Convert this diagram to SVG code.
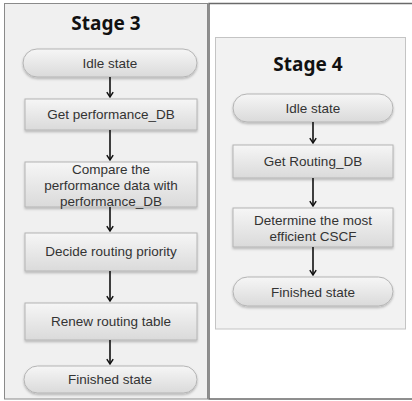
<svg xmlns="http://www.w3.org/2000/svg" width="412" height="401" viewBox="0 0 412 401">
<style>
.title{font-family:"Noto Sans","Liberation Sans",sans-serif;font-size:19px;font-weight:bold;fill:#111;text-anchor:middle}
.lbl{font-family:"Liberation Sans","Noto Sans",sans-serif;font-size:13.5px;fill:#333;text-anchor:middle}
.node{fill:url(#g);stroke:#b4b4b4;stroke-width:1;filter:url(#sh)}
.conn line{stroke:#111;stroke-width:1.6;marker-end:url(#arr)}
</style>
<defs>
<linearGradient id="g" x1="0" y1="0" x2="0" y2="1">
<stop offset="0" stop-color="#f6f6f6"/>
<stop offset="1" stop-color="#dadada"/>
</linearGradient>
<filter id="sh" x="-10%" y="-20%" width="120%" height="150%">
<feDropShadow dx="0" dy="1.5" stdDeviation="1" flood-color="#000" flood-opacity="0.25"/>
</filter>
<marker id="arr" viewBox="0 0 10 10" refX="9" refY="5" markerWidth="8" markerHeight="8" markerUnits="userSpaceOnUse" orient="auto">
<path d="M3,1 L9,5 L3,9" fill="none" stroke="#111" stroke-width="1.8"/>
</marker>
</defs>
<rect x="0" y="0" width="412" height="401" fill="#fff"/>
<g id="panel3">
<rect x="4.5" y="3.5" width="203" height="395.5" fill="#f0f0f0" stroke="#8a8a8a" stroke-width="1"/>
<text class="title" x="106" y="30">Stage 3</text>
</g>
<g id="panel4">
<rect x="209" y="3.5" width="210" height="395.5" fill="#fff" stroke="#6a6a6a" stroke-width="1.5"/>
<rect x="215.5" y="37.5" width="190" height="291.5" fill="#f2f2f2" stroke="#c4c4c4" stroke-width="1"/>
<text class="title" x="308" y="71">Stage 4</text>
</g>
<g id="s3-idle"><rect class="node" x="23" y="49" width="174" height="28" rx="14"/><text class="lbl" x="110" y="68">Idle state</text></g>
<g id="s3-getdb"><rect class="node" x="25" y="99" width="172" height="31"/><text class="lbl" x="111" y="119">Get performance_DB</text></g>
<g id="s3-compare"><rect class="node" x="25" y="162" width="172" height="45"/><text class="lbl" x="111" y="174">Compare the</text><text class="lbl" x="111" y="190">performance data with</text><text class="lbl" x="111" y="206">performance_DB</text></g>
<g id="s3-decide"><rect class="node" x="25" y="233" width="172" height="38"/><text class="lbl" x="111" y="256">Decide routing priority</text></g>
<g id="s3-renew"><rect class="node" x="25" y="303" width="172" height="37"/><text class="lbl" x="111" y="326">Renew routing table</text></g>
<g id="s3-finished"><rect class="node" x="24" y="366" width="173" height="27" rx="13.5"/><text class="lbl" x="110" y="384">Finished state</text></g>
<g id="s4-idle"><rect class="node" x="233" y="94" width="160" height="28" rx="14"/><text class="lbl" x="313" y="113">Idle state</text></g>
<g id="s4-getdb"><rect class="node" x="233" y="145" width="160" height="33"/><text class="lbl" x="313" y="166">Get Routing_DB</text></g>
<g id="s4-determine"><rect class="node" x="233" y="208" width="160" height="39"/><text class="lbl" x="313" y="225">Determine the most</text><text class="lbl" x="313" y="241">efficient CSCF</text></g>
<g id="s4-finished"><rect class="node" x="233" y="277" width="160" height="29" rx="14.5"/><text class="lbl" x="313" y="297">Finished state</text></g>
<g id="connectors" class="conn">
<line x1="110" y1="77" x2="110" y2="97"/>
<line x1="110" y1="130" x2="110" y2="160"/>
<line x1="110" y1="207" x2="110" y2="231"/>
<line x1="110" y1="271" x2="110" y2="301"/>
<line x1="110" y1="340" x2="110" y2="364"/>
<line x1="313" y1="122" x2="313" y2="143"/>
<line x1="313" y1="178" x2="313" y2="206"/>
<line x1="313" y1="247" x2="313" y2="275"/>
</g>
</svg>
